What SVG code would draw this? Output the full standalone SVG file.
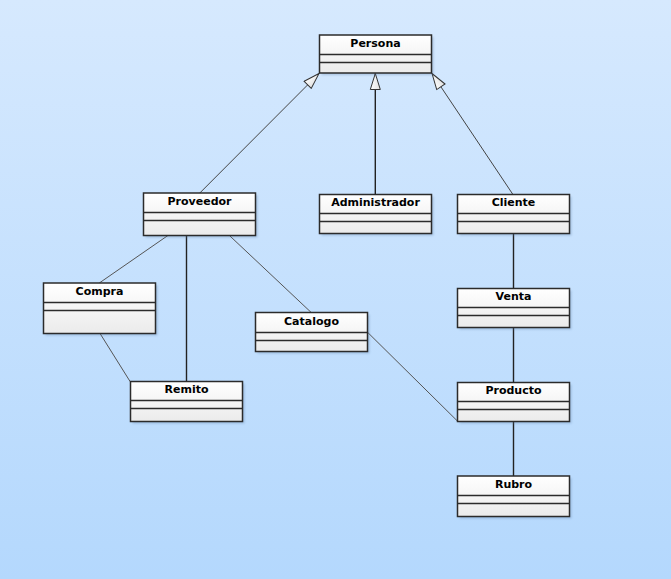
<svg xmlns="http://www.w3.org/2000/svg" width="671" height="579" viewBox="0 0 671 579">
<defs>
<linearGradient id="bg" x1="0" y1="0" x2="0" y2="1">
<stop offset="0" stop-color="#d6e9fe"/>
<stop offset="1" stop-color="#b4d8fd"/>
</linearGradient>
<linearGradient id="boxfill" x1="0" y1="0" x2="0" y2="1">
<stop offset="0" stop-color="#ffffff"/>
<stop offset="1" stop-color="#ebebeb"/>
</linearGradient>
<linearGradient id="arrfill" x1="0" y1="0" x2="0" y2="1">
<stop offset="0" stop-color="#ffffff"/>
<stop offset="1" stop-color="#e0e0e0"/>
</linearGradient>
<filter id="sh" x="-10%" y="-10%" width="130%" height="140%">
<feGaussianBlur stdDeviation="1.2"/>
</filter>
<marker id="gen" viewBox="0 0 18 12" refX="17" refY="6" markerWidth="18" markerHeight="12" markerUnits="userSpaceOnUse" orient="auto">
<path d="M1,1 L17,6 L1,11 Z" fill="url(#arrfill)" stroke="#333" stroke-width="1"/>
</marker>
</defs>
<style>
.box{fill:url(#boxfill);stroke:#2b2b2b;stroke-width:1.5}
.shd{fill:#5c7fa8;opacity:0.35;filter:url(#sh)}
.div{stroke:#2b2b2b;stroke-width:1.3}
.lbl{font-family:"DejaVu Sans",Verdana,sans-serif;font-weight:bold;font-size:11px;fill:#000;text-anchor:middle}
.assoc{stroke:#555;stroke-width:1;fill:none}
.inh{stroke:#444;stroke-width:1;fill:none}
.inh2{stroke:#222;stroke-width:1.4;fill:none}
</style>
<rect x="0" y="0" width="671" height="579" fill="url(#bg)"/>

<g id="connectors">
<line class="inh" x1="199.8" y1="193" x2="319" y2="73.5" marker-end="url(#gen)"/>
<line class="inh2" x1="375.3" y1="194" x2="375.3" y2="73.5" marker-end="url(#gen)"/>
<line class="inh" x1="512.6" y1="194" x2="432" y2="73.5" marker-end="url(#gen)"/>
<line class="assoc" x1="168.6" y1="235" x2="99.3" y2="283"/>
<line class="inh2" x1="186.5" y1="235" x2="186.5" y2="381.5"/>
<line class="assoc" x1="228.9" y1="235" x2="311.1" y2="312.4"/>
<line class="assoc" x1="99.3" y1="332.3" x2="130.1" y2="381.5"/>
<line class="assoc" x1="367.6" y1="332.3" x2="457.4" y2="421"/>
<line class="inh2" x1="513.5" y1="233" x2="513.5" y2="288.5"/>
<line class="inh2" x1="513.5" y1="327.5" x2="513.5" y2="382.5"/>
<line class="inh2" x1="513.5" y1="421.5" x2="513.5" y2="476"/>
</g>

<g id="Persona">
<rect class="shd" x="321.5" y="37" width="112" height="38"/>
<rect class="box" x="319.5" y="35" width="112" height="38"/>
<line class="div" x1="319.5" y1="54.5" x2="431.5" y2="54.5"/>
<line class="div" x1="319.5" y1="62.5" x2="431.5" y2="62.5"/>
<text class="lbl" x="375.5" y="47">Persona</text>
</g>

<g id="Proveedor">
<rect class="shd" x="145.5" y="195" width="112" height="42.5"/>
<rect class="box" x="143.5" y="193" width="112" height="42.5"/>
<line class="div" x1="143.5" y1="212.5" x2="255.5" y2="212.5"/>
<line class="div" x1="143.5" y1="220.5" x2="255.5" y2="220.5"/>
<text class="lbl" x="199.5" y="205">Proveedor</text>
</g>

<g id="Administrador">
<rect class="shd" x="321.5" y="196.5" width="112" height="39"/>
<rect class="box" x="319.5" y="194.5" width="112" height="39"/>
<line class="div" x1="319.5" y1="213.5" x2="431.5" y2="213.5"/>
<line class="div" x1="319.5" y1="221.5" x2="431.5" y2="221.5"/>
<text class="lbl" x="375.5" y="206">Administrador</text>
</g>

<g id="Cliente">
<rect class="shd" x="459.5" y="196.5" width="112" height="39"/>
<rect class="box" x="457.5" y="194.5" width="112" height="39"/>
<line class="div" x1="457.5" y1="213.5" x2="569.5" y2="213.5"/>
<line class="div" x1="457.5" y1="221.5" x2="569.5" y2="221.5"/>
<text class="lbl" x="513.5" y="206">Cliente</text>
</g>

<g id="Compra">
<rect class="shd" x="45.5" y="285" width="112" height="50.5"/>
<rect class="box" x="43.5" y="283" width="112" height="50.5"/>
<line class="div" x1="43.5" y1="302.5" x2="155.5" y2="302.5"/>
<line class="div" x1="43.5" y1="310.5" x2="155.5" y2="310.5"/>
<text class="lbl" x="99.5" y="295">Compra</text>
</g>

<g id="Catalogo">
<rect class="shd" x="257.5" y="314.5" width="112" height="39"/>
<rect class="box" x="255.5" y="312.5" width="112" height="39"/>
<line class="div" x1="255.5" y1="332.5" x2="367.5" y2="332.5"/>
<line class="div" x1="255.5" y1="340.5" x2="367.5" y2="340.5"/>
<text class="lbl" x="311.5" y="325">Catalogo</text>
</g>

<g id="Remito">
<rect class="shd" x="132.5" y="383.5" width="112" height="40"/>
<rect class="box" x="130.5" y="381.5" width="112" height="40"/>
<line class="div" x1="130.5" y1="400.5" x2="242.5" y2="400.5"/>
<line class="div" x1="130.5" y1="408.5" x2="242.5" y2="408.5"/>
<text class="lbl" x="186.5" y="393">Remito</text>
</g>

<g id="Venta">
<rect class="shd" x="459.5" y="290.5" width="112" height="39"/>
<rect class="box" x="457.5" y="288.5" width="112" height="39"/>
<line class="div" x1="457.5" y1="307.5" x2="569.5" y2="307.5"/>
<line class="div" x1="457.5" y1="315.5" x2="569.5" y2="315.5"/>
<text class="lbl" x="513.5" y="300">Venta</text>
</g>

<g id="Producto">
<rect class="shd" x="459.5" y="384.5" width="112" height="39"/>
<rect class="box" x="457.5" y="382.5" width="112" height="39"/>
<line class="div" x1="457.5" y1="401.5" x2="569.5" y2="401.5"/>
<line class="div" x1="457.5" y1="409.5" x2="569.5" y2="409.5"/>
<text class="lbl" x="513.5" y="394">Producto</text>
</g>

<g id="Rubro">
<rect class="shd" x="459.5" y="478" width="112" height="40.5"/>
<rect class="box" x="457.5" y="476" width="112" height="40.5"/>
<line class="div" x1="457.5" y1="495.5" x2="569.5" y2="495.5"/>
<line class="div" x1="457.5" y1="503.5" x2="569.5" y2="503.5"/>
<text class="lbl" x="513.5" y="488">Rubro</text>
</g>
</svg>
